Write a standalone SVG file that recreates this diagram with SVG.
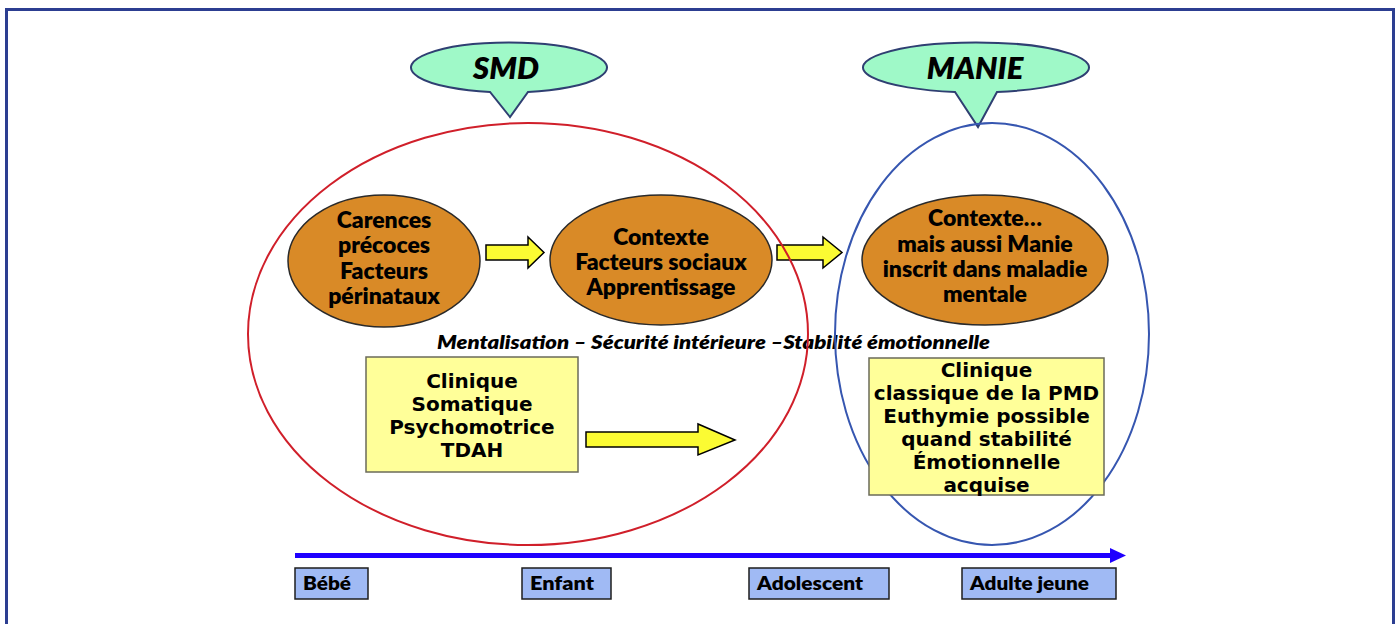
<svg xmlns="http://www.w3.org/2000/svg" width="1398" height="624" viewBox="0 0 1398 624">
  <style>
    .callout { fill: #9ff9c8; stroke: #2f3f72; stroke-width: 2; }
    .callout-text { font-family: Lato, "Liberation Sans", sans-serif; font-weight: 800; font-style: italic; font-size: 31px; fill: #000; text-anchor: middle; }
    .stage { fill: #d98a27; stroke: #2a2a2a; stroke-width: 1.5; }
    .stage-text { font-family: Lato, "Liberation Sans", sans-serif; font-weight: 800; font-size: 23px; fill: #000; text-anchor: middle; }
    .block { fill: #ffff99; stroke: #6b6b5a; stroke-width: 1.5; }
    .block-text { font-family: "DejaVu Sans", Verdana, sans-serif; font-weight: bold; font-size: 20px; fill: #000; text-anchor: middle; }
    .flow { fill: #fbfb33; stroke: #000; stroke-width: 1.5; stroke-linejoin: miter; }
    .age { fill: #a0baf4; stroke: #1e1e1e; stroke-width: 1.5; }
    .age-text { font-family: Lato, "Liberation Sans", sans-serif; font-weight: 800; font-size: 19px; fill: #000; }
    .axis-note { font-family: Lato, "Liberation Sans", sans-serif; font-weight: 800; font-style: italic; font-size: 18px; fill: #000; }
  </style>

  <!-- page frame -->
  <rect x="0" y="0" width="1398" height="624" fill="#ffffff"/>
  <rect x="6.5" y="9.5" width="1387" height="630" fill="none" stroke="#2c3e91" stroke-width="3"/>

  <!-- speech-bubble titles -->
  <g id="smd-callout">
    <path class="callout" d="M490,92 A98,25 0 1 1 528,92 L510,117 Z"/>
    <text class="callout-text" x="506" y="79">SMD</text>
  </g>
  <g id="manie-callout">
    <path class="callout" d="M955,92 A113,25 0 1 1 997,92 L978,127 Z"/>
    <text class="callout-text" x="975" y="79">MANIE</text>
  </g>

  <!-- developmental stages -->
  <g id="stage-carences">
    <ellipse class="stage" cx="384" cy="261" rx="96" ry="66"/>
    <text class="stage-text" x="384" y="228">Carences</text>
    <text class="stage-text" x="384" y="253">précoces</text>
    <text class="stage-text" x="384" y="279">Facteurs</text>
    <text class="stage-text" x="384" y="304">périnataux</text>
  </g>
  <g id="stage-contexte">
    <ellipse class="stage" cx="661" cy="260" rx="111" ry="65"/>
    <text class="stage-text" x="661" y="245">Contexte</text>
    <text class="stage-text" x="661" y="270">Facteurs sociaux</text>
    <text class="stage-text" x="661" y="295">Apprentissage</text>
  </g>
  <g id="stage-manie">
    <ellipse class="stage" cx="985" cy="260" rx="123" ry="65"/>
    <text class="stage-text" x="985" y="226">Contexte…</text>
    <text class="stage-text" x="985" y="252">mais aussi Manie</text>
    <text class="stage-text" x="985" y="277">inscrit dans maladie</text>
    <text class="stage-text" x="985" y="302">mentale</text>
  </g>

  <!-- clinical picture, childhood -->
  <g id="clinique-enfance">
    <rect class="block" x="366" y="357" width="212" height="115"/>
    <text class="block-text" x="472" y="388">Clinique</text>
    <text class="block-text" x="472" y="411">Somatique</text>
    <text class="block-text" x="472" y="434">Psychomotrice</text>
    <text class="block-text" x="472" y="457">TDAH</text>
  </g>

  <!-- connectors -->
  <g id="connectors">
    <polygon class="flow" points="486,245 528,245 528,237 544,252.5 528,268 528,260 486,260"/>
    <polygon class="flow" points="777,245 823,245 823,237 842,252.5 823,268 823,260 777,260"/>
    <polygon class="flow" points="586,432 698,432 698,424 735,440 698,455 698,447 586,447"/>
    <!-- age axis -->
    <line x1="295" y1="555.5" x2="1112" y2="555.5" stroke="#1f00ff" stroke-width="5"/>
    <polygon points="1110,548 1126,555.5 1110,563" fill="#1f00ff"/>
  </g>

  <g id="axis-note">
    <text class="axis-note" x="437" y="349" textLength="553" lengthAdjust="spacingAndGlyphs">Mentalisation – Sécurité intérieure –Stabilité émotionnelle</text>
  </g>

  <!-- grouping circles -->
  <g id="smd-zone">
    <ellipse cx="528" cy="334" rx="280" ry="211" fill="none" stroke="#d01f2a" stroke-width="2"/>
  </g>
  <g id="manie-zone">
    <ellipse cx="992" cy="334" rx="157" ry="211" fill="none" stroke="#3656b0" stroke-width="2"/>
  </g>

  <!-- clinical picture, adulthood -->
  <g id="clinique-adulte">
    <rect class="block" x="869" y="358" width="235" height="137"/>
    <text class="block-text" x="986.5" y="377">Clinique</text>
    <text class="block-text" x="986.5" y="400">classique de la PMD</text>
    <text class="block-text" x="986.5" y="423">Euthymie possible</text>
    <text class="block-text" x="986.5" y="446">quand stabilité</text>
    <text class="block-text" x="986.5" y="469">Émotionnelle</text>
    <text class="block-text" x="986.5" y="492">acquise</text>
  </g>

  <!-- age labels -->
  <g id="age-bebe">
    <rect class="age" x="295" y="568" width="73" height="31"/>
    <text class="age-text" x="303" y="590" textLength="48" lengthAdjust="spacingAndGlyphs">Bébé</text>
  </g>
  <g id="age-enfant">
    <rect class="age" x="522" y="568" width="89" height="31"/>
    <text class="age-text" x="530" y="590" textLength="64" lengthAdjust="spacingAndGlyphs">Enfant</text>
  </g>
  <g id="age-adolescent">
    <rect class="age" x="749" y="568" width="140" height="31"/>
    <text class="age-text" x="757" y="590" textLength="106" lengthAdjust="spacingAndGlyphs">Adolescent</text>
  </g>
  <g id="age-adulte">
    <rect class="age" x="962" y="568" width="154" height="31"/>
    <text class="age-text" x="970" y="590" textLength="119" lengthAdjust="spacingAndGlyphs">Adulte jeune</text>
  </g>
</svg>
